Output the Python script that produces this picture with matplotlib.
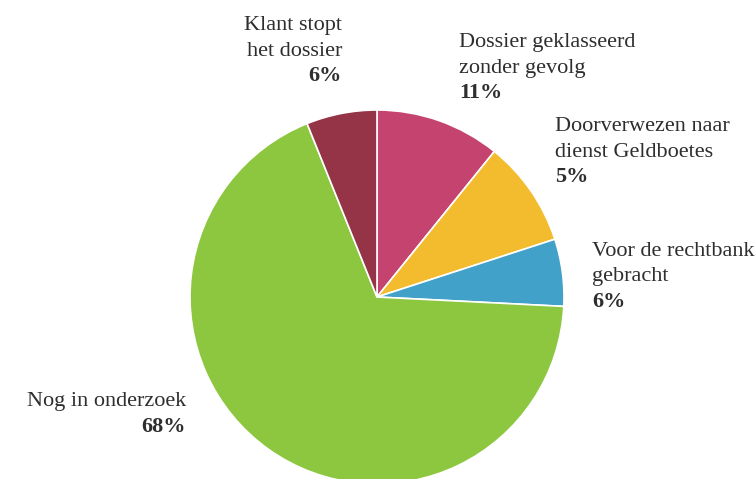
import matplotlib
matplotlib.use("Agg")
import matplotlib.pyplot as plt

categories = ["Dossier geklasseerd\nzonder gevolg",
              "Doorverwezen naar\ndienst Geldboetes",
              "Voor de rechtbank\ngebracht",
              "Nog in onderzoek",
              "Klant stopt\nhet dossier"]
slice_values = [10.8, 9.2, 5.8, 68.1, 6.1]
pct_labels = ["11%", "5%", "6%", "68%", "6%"]
colors = ["#C4446F", "#F2BC2E", "#42A1C8", "#8DC63F", "#953446"]

W, H = 756, 479
fig = plt.figure(figsize=(W / 100, H / 100), dpi=100)
ax = fig.add_axes([0, 0, 1, 1])
ax.pie(slice_values, colors=colors, startangle=90, counterclock=False,
       center=(377, H - 297), radius=187,
       wedgeprops=dict(edgecolor="white", linewidth=1.2))
ax.set_xlim(0, W)
ax.set_ylim(0, H)
ax.set_aspect("equal")
ax.axis("off")

font = "Liberation Serif"
fs = 16
txt_color = "#2e2e2e"
# (x, first baseline y, ha) for each label block in pixel coords
positions = [(459, 47, "left"), (555, 131, "left"), (592, 256, "left"),
             (186, 406, "right"), (342, 30, "right")]
line_h = 25.5
for cat, pct, (x, y, ha) in zip(categories, pct_labels, positions):
    lines = cat.split("\n")
    for i, ln in enumerate(lines):
        ax.text(x, H - (y + i * line_h), ln, ha=ha, va="baseline",
                fontsize=fs, family=font, color=txt_color)
    ax.text(x, H - (y + len(lines) * line_h), pct, ha=ha, va="baseline",
            fontsize=fs, family=font, weight="bold", color=txt_color)

fig.savefig("out.png", dpi=100)
